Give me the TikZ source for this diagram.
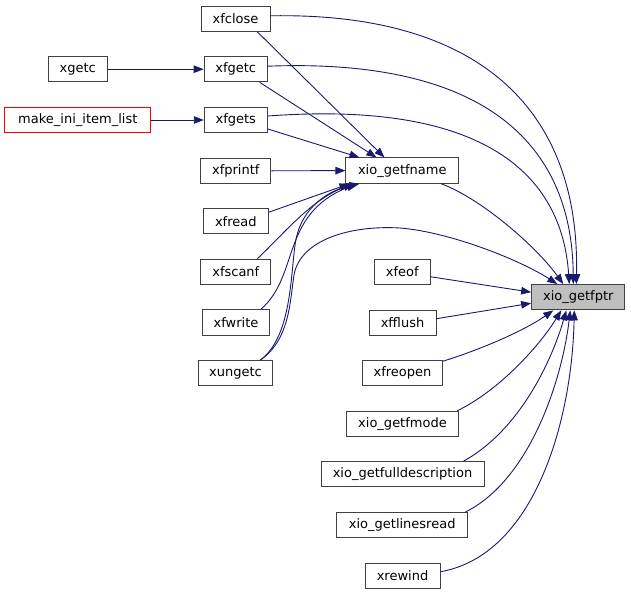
\documentclass[tikz,border=0pt]{standalone}
\usepackage{fontspec}
\setmainfont{DejaVu Sans}
\usetikzlibrary{arrows.meta,calc}
\definecolor{edgeblue}{HTML}{191970}
\definecolor{boxline}{HTML}{404040}
\definecolor{focusfill}{HTML}{BFBFBF}
\begin{document}
\begin{tikzpicture}[x=1pt,y=-1pt,
  fbox/.style={draw=boxline,line width=1pt,fill=white,rectangle,inner sep=0pt,
    minimum height=25.3pt,font=\fontsize{13}{15}\selectfont},
  redbox/.style={fbox,draw=red},
  focusbox/.style={fbox,fill=focusfill},
  conn/.style={draw=edgeblue,line width=0.9pt,-{Triangle[length=10pt,width=7.5pt]}}]
\useasboundingbox (0,0) rectangle (631,595);
% nodes
\node[fbox,minimum width=69pt]  (xfclose) at (235.5,18.8) {xfclose};
\node[fbox,minimum width=59pt]  (xgetc) at (77.8,69.2) {xgetc};
\node[fbox,minimum width=63pt]  (xfgetc) at (235.7,69.2) {xfgetc};
\node[redbox,minimum width=145.7pt] (mkini) at (77.8,120) {make\_ini\_item\_list};
\node[fbox,minimum width=63pt]  (xfgets) at (235.8,120) {xfgets};
\node[fbox,minimum width=70.3pt] (xfprintf) at (235.8,170.8) {xfprintf};
\node[fbox,minimum width=112.7pt] (fname) at (402.3,170.6) {xio\_getfname};
\node[fbox,minimum width=65pt]  (xfread) at (235.8,221.2) {xfread};
\node[fbox,minimum width=70.3pt] (xfscanf) at (235.8,271.7) {xfscanf};
\node[fbox,minimum width=66.7pt] (xfwrite) at (236,322.5) {xfwrite};
\node[fbox,minimum width=74.3pt] (xungetc) at (235.5,373.3) {xungetc};
\node[fbox,minimum width=56.3pt] (xfeof) at (402.2,271.8) {xfeof};
\node[fbox,minimum width=67pt]  (xfflush) at (402.5,322.7) {xfflush};
\node[fbox,minimum width=80.3pt] (xfreopen) at (402.5,373.3) {xfreopen};
\node[fbox,minimum width=112.3pt] (fmode) at (402.5,424) {xio\_getfmode};
\node[fbox,minimum width=163pt] (fulldesc) at (402.5,474.3) {xio\_getfulldescription};
\node[fbox,minimum width=131pt] (linesread) at (402.2,525.3) {xio\_getlinesread};
\node[fbox,minimum width=75pt]  (xrewind) at (402.5,575.7) {xrewind};
\node[focusbox,minimum width=93.3pt] (fptr) at (578.3,297.2) {xio\_getfptr};
% edges into xfgetc / xfgets
\draw[conn] (xgetc.east) -- (xfgetc.west);
\draw[conn] (mkini.east) -- (xfgets.west);
% edges into xio_getfname
\draw[conn] ($(xfclose.south east)+(-13,0)$) -- ($(fname.north west)+(39,0)$);
\draw[conn] ($(xfgetc.south east)+(-8,0)$) -- ($(fname.north west)+(31,0)$);
\draw[conn] ($(xfgets.east)+(0,9)$) -- ($(fname.north west)+(14,0)$);
\draw[conn] (xfprintf.east) -- (fname.west);
\draw[conn] ($(xfread.east)+(0,-9)$) -- ($(fname.south west)+(4,0)$);
\draw[conn] ($(xfscanf.north east)+(-14,0)$) .. controls (280,238) and (310,200) .. ($(fname.south west)+(8,0)$);
\draw[conn] ($(xfwrite.north east)+(-9,0)$) .. controls (300,275) and (280,215) .. ($(fname.south west)+(11,0)$);
\draw[conn] ($(xungetc.north east)+(-13,0)$) .. controls (295,335) and (290,260) .. (297,235)
   .. controls (305,205) and (330,190) .. ($(fname.south west)+(14,0)$);
% edges into xio_getfptr (top)
\draw[conn] ($(xfclose.east)+(0,-3)$) .. controls (480,12) and (580,110) .. ($(fptr.north)+(-2,0)$);
\draw[conn] ($(xfgetc.east)+(0,-3)$) .. controls (480,58) and (572,140) .. ($(fptr.north)+(-5,0)$);
\draw[conn] ($(xfgets.east)+(0,-4)$) .. controls (485,100) and (562,175) .. ($(fptr.north)+(-9,0)$);
\draw[conn] ($(fname.south east)+(-18,0)$) .. controls (480,198) and (535,245) .. ($(fptr.north)+(-15,0)$);
\draw[conn] ($(xungetc.north east)+(-13,0)$) .. controls (290,340) and (290,300) .. (294,275)
   .. controls (300,240) and (350,225) .. (400,228)
   .. controls (450,232) and (520,260) .. ($(fptr.north)+(-21,0)$);
% edges into xio_getfptr (left and bottom)
\draw[conn] ($(xfeof.east)+(0,5)$) -- ($(fptr.west)+(0,-5)$);
\draw[conn] ($(xfflush.east)+(0,-4)$) -- ($(fptr.west)+(0,6)$);
\draw[conn] ($(xfreopen.north east)+(0,1)$) .. controls (485,348) and (525,330) .. ($(fptr.south)+(-25,0)$);
\draw[conn] ($(fmode.north east)+(-2,0)$) .. controls (500,390) and (540,345) .. ($(fptr.south)+(-17,0)$);
\draw[conn] ($(fulldesc.north east)+(-21,0)$) .. controls (520,430) and (552,360) .. ($(fptr.south)+(-12,0)$);
\draw[conn] ($(linesread.north east)+(-3,0)$) .. controls (530,480) and (562,380) .. ($(fptr.south)+(-8,0)$);
\draw[conn] ($(xrewind.east)+(0,-4)$) .. controls (535,555) and (572,420) .. ($(fptr.south)+(-4,0)$);
\end{tikzpicture}
\end{document}
